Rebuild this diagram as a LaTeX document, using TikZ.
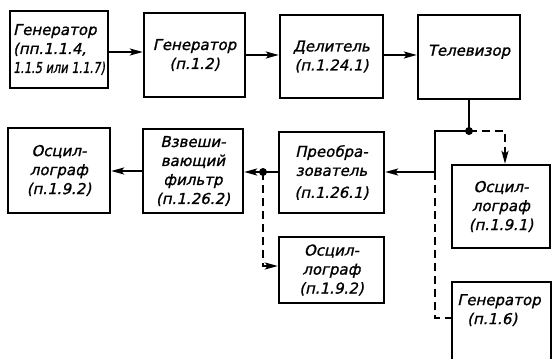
\documentclass[tikz,border=0pt]{standalone}
\usepackage{fontspec}
\usepackage{graphicx}
\newfontfamily\gost{DejaVu Sans}[FakeSlant=0.22,FakeBold=1.2]
\usetikzlibrary{arrows.meta,calc}
\tikzset{
 gfont/.style={font=\gost\fontsize{15}{19}\selectfont},
 box/.style={draw, line width=2.4pt, inner sep=0pt, align=center, gfont},
 txt/.style={inner sep=0pt, gfont},
 conn/.style={line width=2pt},
 arr/.style={conn, -{Stealth[length=13pt,width=7pt,inset=3pt]}},
 dsh/.style={dash pattern=on 8pt off 5pt},
 dot/.style={circle, fill, inner sep=0pt, minimum size=8pt},
}
\begin{document}
\begin{tikzpicture}[x=1pt,y=-1pt]
\useasboundingbox (0,0) rectangle (553,358);
\fill[white] (0,0) rectangle (553,358);
% top row
\node[box, minimum width=98pt, minimum height=77pt, align=left] (b1) at (59,49.5) {Генератор\\(пп.1.1.4,\\\scalebox{0.76}[1]{1.1.5 или 1.1.7)}};
\node[box, minimum width=101pt, minimum height=84pt] (b2) at (194.5,55) {Генератор\\(п.1.2)};
\node[box, minimum width=103pt, minimum height=83pt] (b3) at (331.5,56.5) {Делитель\\(п.1.24.1)};
\node[box, minimum width=102pt, minimum height=84pt, text depth=13.5pt] (b4) at (469,57) {Телевизор};
% right column
\node[box, minimum width=98pt, minimum height=83pt] (b5) at (501,206.5) {Осцил-\\лограф\\(п.1.9.1)};
\node[box, minimum width=99pt, minimum height=82pt, anchor=north] (b6) at (501.5,281) {};
\node[txt, anchor=north west, align=left] (t6) at (457,294) {Генератор\\\hspace*{10pt}(п.1.6)};
% middle row
\node[box, minimum width=105pt, minimum height=81pt] (b7) at (331.5,172.5) {Преобра-\\зователь\\[3pt](п.1.26.1)};
\node[box, minimum width=105pt, minimum height=66pt] (b8) at (331.5,270) {Осцил-\\лограф\\(п.1.9.2)};
\node[box, minimum width=100pt, minimum height=84pt] (b9) at (193,171) {Взвеши-\\вающий\\фильтр\\(п.1.26.2)};
\node[box, minimum width=102pt, minimum height=85pt] (b10) at (59,170.5) {Осцил-\\лограф\\(п.1.9.2)};
% junctions
\node[dot] (j1) at (469,131) {};
\node[dot] (j2) at (263,172) {};
\coordinate (c1) at (435,131);
\coordinate (c2) at (435,172);
\coordinate (c3) at (435,318);
\coordinate (c4) at (505,131);
\coordinate (c5) at (263,266);
% connectors
\draw[arr] (b1.east |- 0,52) -- (b2.west |- 0,52);
\draw[arr] (b2.east |- 0,55) -- (b3.west |- 0,55);
\draw[arr] (b3.east |- 0,55) -- (b4.west |- 0,55);
\draw[conn] (b4.south) -- (j1.center);
\draw[arr] (j1.center) -- (c1) -- (c2) -- (b7.east |- c2);
\draw[conn,dsh] (c2) -- (c3) -- (b6.west |- c3);
\draw[arr,dsh] (j1.center) -- (c4) -- (c4 |- b5.north);
\draw[arr] (b7.west |- j2) -- (b9.east |- j2);
\draw[arr,dsh] (j2.center) -- (c5) -- (b8.west |- c5);
\draw[arr] (b9.west) -- (b10.east |- b9.west);
\end{tikzpicture}
\end{document}
